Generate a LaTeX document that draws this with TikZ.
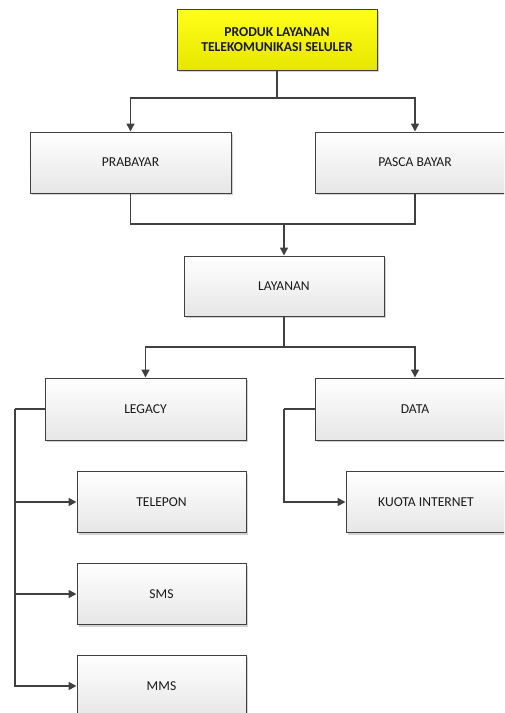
\documentclass[tikz,border=0pt]{standalone}
\usepackage{fontspec}
\setmainfont{Carlito}
\usetikzlibrary{arrows.meta,shadows}

\definecolor{edge}{HTML}{404040}
\definecolor{boxtop}{HTML}{FFFFFF}
\definecolor{boxbot}{HTML}{E6E6E6}
\definecolor{yeltop}{HTML}{FFFF1A}
\definecolor{yelbot}{HTML}{E6E600}
\definecolor{ink}{HTML}{1A1A1A}

\tikzset{
  box/.style={draw=edge, line width=1pt, rectangle, inner sep=0pt,
    top color=boxtop, bottom color=boxbot, text=ink,
    font=\fontsize{13.6}{15}\selectfont, align=center,
    drop shadow={shadow xshift=2pt, shadow yshift=-2pt, fill=black!35, opacity=0.5}},
  titlebox/.style={box, top color=yeltop, bottom color=yelbot,
    font=\fontsize{13.6}{15}\selectfont\bfseries},
  link/.style={draw=edge, line width=1.6pt},
  arr/.style={link, -{Triangle[length=8pt, width=8pt]}}
}

\begin{document}
\begin{tikzpicture}[x=1pt, y=-1pt]
  \useasboundingbox (0,0) rectangle (504,713);
  \clip (0,0) rectangle (504,713);

  % boxes
  \node[titlebox, minimum width=200pt, minimum height=61pt] (top) at (277,39.5)
    {PRODUK LAYANAN\\TELEKOMUNIKASI SELULER};
  \node[box, minimum width=201pt, minimum height=61pt] (pra) at (130.5,162.5) {PRABAYAR};
  \node[box, minimum width=200pt, minimum height=61pt] (pasca) at (415,162.5) {PASCA BAYAR};
  \node[box, minimum width=200pt, minimum height=60pt] (lay) at (284,286) {LAYANAN};
  \node[box, minimum width=201pt, minimum height=62pt] (legacy) at (145.5,409) {LEGACY};
  \node[box, minimum width=200pt, minimum height=62pt] (data) at (415,409) {DATA};
  \node[box, minimum width=169pt, minimum height=61pt] (telepon) at (161.5,502) {TELEPON};
  \node[box, minimum width=160pt, minimum height=61pt] (kuota) at (426,502) {KUOTA INTERNET};
  \node[box, minimum width=169pt, minimum height=61pt] (sms) at (161.5,594) {SMS};
  \node[box, minimum width=169pt, minimum height=62pt] (mms) at (161.5,686) {MMS};

  % junction points
  \coordinate (j1) at (277,98);
  \coordinate (j2) at (284,224);
  \coordinate (j3) at (284,347);
  \coordinate (c1) at (15,409);
  \coordinate (c2) at (284,409);

  % top level split
  \draw[link] (top.south) -- (j1);
  \draw[arr] (j1) -| (pra.north);
  \draw[arr] (j1) -| (pasca.north);

  % merge into LAYANAN
  \draw[link] (pra.south) |- (j2);
  \draw[link] (pasca.south) |- (j2);
  \draw[arr] (j2) -- (lay.north);

  % LAYANAN split
  \draw[link] (lay.south) -- (j3);
  \draw[arr] (j3) -| (legacy.north);
  \draw[arr] (j3) -| (data.north);

  % LEGACY branch
  \draw[link] (legacy.west) -- (c1);
  \draw[arr] (c1) |- (telepon.west);
  \draw[arr] (c1) |- (sms.west);
  \draw[arr] (c1) |- (mms.west);

  % DATA branch
  \draw[link] (data.west) -- (c2);
  \draw[arr] (c2) |- (kuota.west);
\end{tikzpicture}
\end{document}
